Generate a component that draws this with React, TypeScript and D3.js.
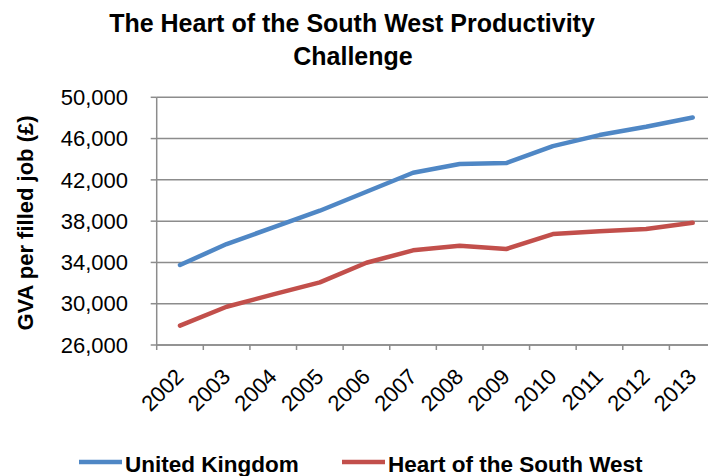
import React from "react";
import * as d3 from "d3";

// GVA per filled job
const years = ["2002", "2003", "2004", "2005", "2006", "2007", "2008", "2009", "2010", "2011", "2012", "2013"];
const ukValues = [33750, 35780, 37400, 39010, 40850, 42690, 43530, 43630, 45270, 46340, 47140, 48050];
const hotswValues = [27870, 29710, 30900, 32070, 33970, 35170, 35620, 35300, 36750, 37010, 37230, 37840];
const yTicks = [26000, 30000, 34000, 38000, 42000, 46000, 50000];

const seriesNames = ["United Kingdom", "Heart of the South West"];
const seriesColors = ["#4F87C5", "#C24F4B"];

const W = 708;
const H = 476;
const left = 156.7;
const right = 716; // plot runs off the right edge, as in the original
const top = 97.3;
const bottom = 345;
const font = "'Liberation Sans', Arial, sans-serif";
const gridColor = "#8c8c8c";

const App = () => {
  const x = d3.scalePoint<string>().domain(years).range([left, right]).padding(0.5);
  const y = d3.scaleLinear().domain([26000, 50000]).range([bottom, top]);
  const step = x.step();

  const line = d3
    .line<number>()
    .x((_, i) => x(years[i]) as number)
    .y((d) => y(d));

  const series = [ukValues, hotswValues];

  return (
    <svg
      width={W}
      height={H}
      style={{ position: "absolute", left: 0, top: 0, background: "#fff" }}
      fontFamily={font}
    >
      {/* title */}
      <text x={352} y={32} textAnchor="middle" fontSize={25} fontWeight="bold">
        The Heart of the South West Productivity
      </text>
      <text x={353} y={65} textAnchor="middle" fontSize={25} fontWeight="bold">
        Challenge
      </text>

      {/* gridlines + y ticks */}
      {yTicks.map((t) => (
        <g key={t}>
          <line x1={left} x2={W} y1={y(t)} y2={y(t)} stroke={gridColor} strokeWidth={1.5} />
          <line x1={left - 6} x2={left} y1={y(t)} y2={y(t)} stroke={gridColor} strokeWidth={1.5} />
          <text x={128} y={y(t)} dy="0.35em" textAnchor="end" fontSize={22}>
            {d3.format(",")(t)}
          </text>
        </g>
      ))}

      {/* axes */}
      <line x1={left} x2={left} y1={top} y2={bottom} stroke={gridColor} strokeWidth={1.5} />
      <line x1={left} x2={W} y1={bottom} y2={bottom} stroke={gridColor} strokeWidth={1.5} />
      {d3.range(years.length + 1).map((i) => (
        <line
          key={i}
          x1={left + i * step}
          x2={left + i * step}
          y1={bottom}
          y2={bottom + 5}
          stroke={gridColor}
          strokeWidth={1.5}
        />
      ))}

      {/* x labels */}
      {years.map((yr) => (
        <text
          key={yr}
          transform={`translate(${(x(yr) as number) + 5},378) rotate(-45)`}
          textAnchor="end"
          fontSize={22}
        >
          {yr}
        </text>
      ))}

      {/* y axis title */}
      <text
        transform="translate(33,223) rotate(-90)"
        textAnchor="middle"
        fontSize={22}
        fontWeight="bold"
      >
        GVA per filled job (£)
      </text>

      {/* series */}
      {series.map((vals, i) => (
        <path
          key={i}
          d={line(vals) || ""}
          fill="none"
          stroke={seriesColors[i]}
          strokeWidth={4.5}
          strokeLinejoin="round"
          strokeLinecap="round"
        />
      ))}

      {/* legend */}
      {[79, 342].map((lx, i) => (
        <g key={i}>
          <line x1={lx} x2={lx + 43} y1={462} y2={462} stroke={seriesColors[i]} strokeWidth={4.5} />
          <text x={lx + 46} y={472} fontSize={22.5} fontWeight="bold">
            {seriesNames[i]}
          </text>
        </g>
      ))}
    </svg>
  );
};

export default App;
